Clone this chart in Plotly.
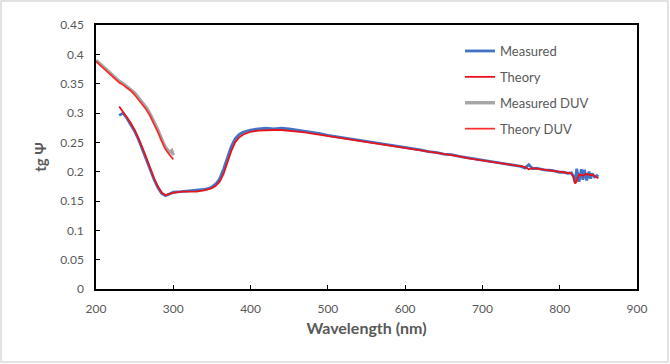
import plotly.graph_objects as go

# Main spectral range (nm)
wl = [230,235,240,245,250,255,260,265,270,275,280,285,290,295,300,310,320,330,340,345,
      350,355,360,365,370,375,380,385,390,395,400,410,420,430,440,450,460,470,480,490,
      500,510,520,530,540,550,560,570,580,590,600,610,620,630,640,650,660,670,680,690,
      700,710,720,730,740,750,755,760,765,770,780,790,800,805,810,815,818,820,822,825,
      828,830,832,835,838,840,842,845,848,850]

measured = [0.296,0.300,0.291,0.281,0.269,0.255,0.239,0.222,0.204,0.187,0.173,0.163,0.159,0.162,0.165,0.166,0.167,0.168,0.170,0.171,
            0.174,0.179,0.188,0.204,0.224,0.243,0.256,0.263,0.267,0.269,0.271,0.273,0.274,0.273,0.274,0.273,0.271,0.270,0.267,0.265,
            0.262,0.260,0.258,0.256,0.253,0.251,0.249,0.247,0.245,0.243,0.241,0.239,0.237,0.234,0.233,0.230,0.229,0.226,0.224,0.222,
            0.219,0.218,0.215,0.214,0.211,0.209,0.206,0.212,0.205,0.206,0.203,0.202,0.199,0.199,0.197,0.198,0.192,0.181,0.205,0.183,
            0.204,0.186,0.203,0.185,0.200,0.188,0.197,0.191,0.193,0.191]

theory = [0.311,0.302,0.293,0.283,0.271,0.257,0.241,0.224,0.206,0.189,0.175,0.164,0.160,0.162,0.164,0.166,0.166,0.166,0.168,0.170,
          0.172,0.176,0.183,0.196,0.215,0.235,0.250,0.258,0.263,0.266,0.268,0.270,0.271,0.271,0.271,0.270,0.269,0.267,0.265,0.263,
          0.261,0.259,0.257,0.255,0.253,0.250,0.248,0.246,0.244,0.242,0.240,0.238,0.236,0.234,0.232,0.230,0.228,0.226,0.223,0.221,
          0.219,0.217,0.215,0.213,0.211,0.209,0.208,0.204,0.206,0.205,0.203,0.201,0.199,0.198,0.198,0.197,0.190,0.180,0.184,0.195,
          0.194,0.193,0.195,0.196,0.195,0.194,0.195,0.192,0.190,0.189]

# Deep UV range (nm)
wl_duv_meas = [200,205,210,215,220,225,230,235,240,245,250,255,260,265,270,275,280,285,290,295,298,300]
measured_duv = [0.390,0.384,0.378,0.372,0.366,0.360,0.354,0.350,0.345,0.340,0.334,0.326,0.318,0.309,0.298,0.285,0.271,0.255,0.241,0.233,0.236,0.228]

wl_duv_th = [200,205,210,215,220,225,230,235,240,245,250,255,260,265,270,275,280,285,290,295,300]
theory_duv = [0.388,0.382,0.376,0.370,0.364,0.358,0.352,0.348,0.343,0.338,0.331,0.323,0.315,0.306,0.295,0.282,0.268,0.252,0.238,0.229,0.221]

x_ticks = [200,300,400,500,600,700,800,900]
y_ticks = [0,0.05,0.1,0.15,0.2,0.25,0.3,0.35,0.4,0.45]
y_tick_text = ["0","0.05","0.1","0.15","0.2","0.25","0.3","0.35","0.4","0.45"]

FONT = "Lato, 'Open Sans', sans-serif"
GRAY = "#595959"

fig = go.Figure()
fig.add_trace(go.Scatter(x=wl, y=measured, mode="lines", name="Measured",
                         line=dict(color="#4472C4", width=2.8), legendgroup="a"))
fig.add_trace(go.Scatter(x=wl, y=theory, mode="lines", name="Theory",
                         line=dict(color="#E8141C", width=1.8), legendgroup="b"))
fig.add_trace(go.Scatter(x=wl_duv_meas, y=measured_duv, mode="lines", name="Measured DUV",
                         line=dict(color="#A5A5A5", width=3.4), legendgroup="c"))
fig.add_trace(go.Scatter(x=wl_duv_th, y=theory_duv, mode="lines", name="Theory DUV",
                         line=dict(color="#FF2A2A", width=1.7), legendgroup="d"))

W, H = 670, 364
L, R, T, B = 96, 33, 25, 75
pw, ph = W - L - R, H - T - B

fig.update_layout(
    width=W, height=H,
    margin=dict(l=L, r=R, t=T, b=B, autoexpand=False),
    paper_bgcolor="white", plot_bgcolor="white",
    font=dict(family=FONT, size=12, color=GRAY),
    showlegend=True,
    legend=dict(x=(460 - L) / pw, y=1 - (36 - T) / ph, xanchor="left", yanchor="top",
                bgcolor="rgba(0,0,0,0)", font=dict(size=13, color=GRAY),
                traceorder="grouped", tracegroupgap=6, itemwidth=30),
    xaxis=dict(range=[200, 900], tickvals=x_ticks, showgrid=False, zeroline=False,
               showline=True, linecolor="black", linewidth=1.5, mirror=True,
               ticks="inside", ticklen=4, tickcolor="black", tickwidth=1.2,
               ticklabelstandoff=8, automargin=False,
               tickfont=dict(size=12, color=GRAY),
               title=dict(text="<b>Wavelength (nm)</b>", font=dict(size=16, color=GRAY, family=FONT), standoff=8)),
    yaxis=dict(range=[0, 0.45], tickvals=y_ticks, ticktext=y_tick_text, showgrid=False, zeroline=False,
               showline=True, linecolor="black", linewidth=1.5, mirror=True,
               ticks="inside", ticklen=4, tickcolor="black", tickwidth=1.2,
               ticklabelstandoff=8, automargin=False,
               tickfont=dict(size=12, color=GRAY),
               title=dict(text="<b>tg Ψ</b>", font=dict(size=15, color=GRAY, family=FONT), standoff=10)),
)

# outer chart border
fig.add_shape(type="rect", xref="paper", yref="paper",
              x0=(1 - L) / pw, x1=(W - 2 - L) / pw, y0=-(B - 2) / ph, y1=1 + (T - 1) / ph,
              line=dict(color="#D9D9D9", width=1.5), fillcolor="rgba(0,0,0,0)", layer="below")

fig.write_html("out.html", config={"displayModeBar": False},
               post_script="document.body.style.margin='0';document.body.style.overflow='hidden';")
